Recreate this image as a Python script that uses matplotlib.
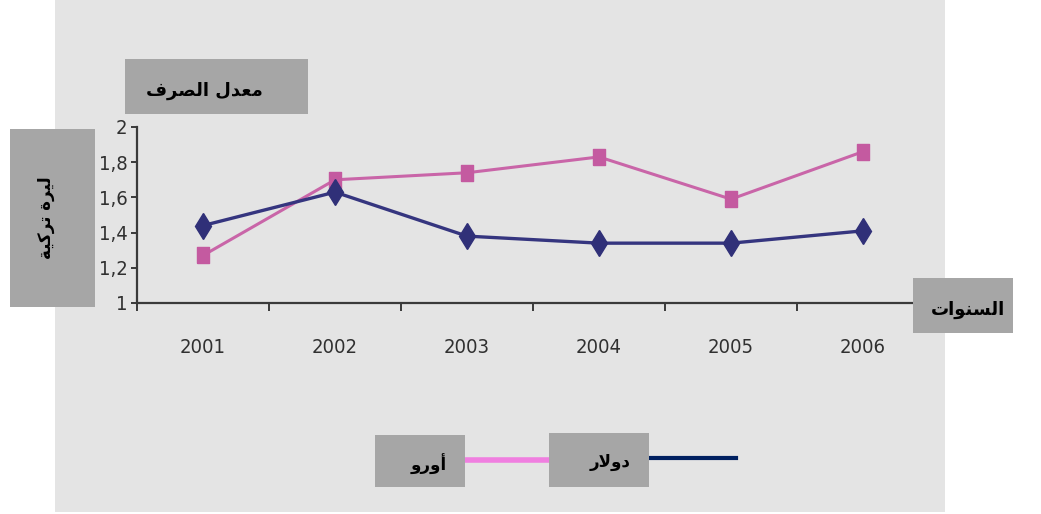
import numpy as np
import matplotlib
matplotlib.use("Agg")
import matplotlib.pyplot as plt
from matplotlib.patches import Rectangle
from matplotlib.lines import Line2D

# exchange rates of the Turkish lira, 2001-2006
years = ["2001", "2002", "2003", "2004", "2005", "2006"]
euro = [1.27, 1.70, 1.74, 1.83, 1.59, 1.86]
dollar = [1.44, 1.63, 1.38, 1.34, 1.34, 1.41]
yticks = [1.0, 1.2, 1.4, 1.6, 1.8, 2.0]

# Arabic labels, written with presentation forms in visual order
# (matplotlib does no shaping / bidi on its own)
title_txt = "\uFED1\uFEAE\uFEBC\uFEDF\uFE8D \uFEDD\uFEAA\uFECC\uFEE3"   # معدل الصرف
ylabel_txt = "\uFE94\uFEF4\uFEDB\uFEAE\uFE97 \uFE93\uFEAE\uFEF4\uFEDF"  # ليرة تركية
xlabel_txt = "\uFE95\uFE8D\uFEEE\uFEE8\uFEB4\uFEDF\uFE8D"              # السنوات
euro_txt = "\uFEED\uFEAD\uFEED\uFE83"                                  # أورو
dollar_txt = "\uFEAD\uFEFB\uFEED\uFEA9"                                # دولار

W, H = 1041, 514
BG = "#e4e4e4"
BOX = "#a6a6a6"


def px_rect(fig, x0, y0, x1, y1, color, z=2):
    # rectangle given in pixel coords (origin top-left)
    r = Rectangle((x0 / W, 1 - y1 / H), (x1 - x0) / W, (y1 - y0) / H,
                  transform=fig.transFigure, facecolor=color,
                  edgecolor="none", zorder=z)
    fig.add_artist(r)
    return r


def px_text(fig, x, y, s, size=15, rot=0):
    fig.text(x / W, 1 - y / H, s, ha="center", va="center", rotation=rot,
             fontsize=size, fontweight="bold", color="black",
             family="DejaVu Sans", zorder=5)


fig = plt.figure(figsize=(W / 100, H / 100), dpi=100, facecolor="white")
px_rect(fig, 55, 0, 945, 512, BG, z=-5)

ax = fig.add_axes([137 / W, 1 - 303 / H, 792 / W, 176 / H])
ax.set_facecolor("none")
x = np.arange(len(years))

rect_marker = [(-0.68, -1), (0.68, -1), (0.68, 1), (-0.68, 1), (-0.68, -1)]
ax.plot(x, euro, color="#c965a8", lw=2.2, marker=rect_marker,
        markersize=12, markerfacecolor="#c45aa0", markeredgecolor="#c45aa0",
        zorder=3)
ax.plot(x, dollar, color="#35357f", lw=2.4, marker="d",
        markersize=13, markerfacecolor="#303078", markeredgecolor="#303078",
        zorder=4)

ax.set_xlim(-0.5, len(years) - 0.5)
ax.set_ylim(1, 2)
for s in ["top", "right"]:
    ax.spines[s].set_visible(False)
for s in ["left", "bottom"]:
    ax.spines[s].set_color("#3a3a3a")
    ax.spines[s].set_linewidth(1.6)

ax.set_yticks(yticks)
ax.set_yticklabels([("%.1f" % v).replace(".", ",").replace(",0", "")
                    for v in yticks])
ax.tick_params(axis="y", length=4, width=1.4, color="#3a3a3a", pad=3,
               labelsize=14.5, labelcolor="#303030")

ax.set_xticks(x)
ax.set_xticklabels(years)
ax.set_xticks(np.arange(-0.5, len(years)), minor=True)
ax.tick_params(axis="x", which="major", length=0, pad=25, labelsize=14.5,
               labelcolor="#303030")
ax.tick_params(axis="x", which="minor", length=6, width=1.4,
               color="#3a3a3a", direction="out")
for lab in ax.get_xticklabels() + ax.get_yticklabels():
    lab.set_family("DejaVu Sans")
    lab.set_stretch("condensed")

# label boxes
px_rect(fig, 125, 59, 308, 114, BOX)
px_text(fig, 204, 91, title_txt, size=13)

px_rect(fig, 10, 129, 95, 307, BOX)
px_text(fig, 46, 218, ylabel_txt, size=12, rot=90)

px_rect(fig, 913, 278, 1013, 333, BOX)
px_text(fig, 968, 310, xlabel_txt, size=13)

# legend
fig.add_artist(Line2D([465 / W, 549 / W], [1 - 460 / H, 1 - 460 / H],
                      transform=fig.transFigure, color="#f07fe0", lw=4,
                      zorder=2))
fig.add_artist(Line2D([649 / W, 736 / W], [1 - 458 / H, 1 - 458 / H],
                      transform=fig.transFigure, color="#002060", lw=3,
                      zorder=2))
px_rect(fig, 375, 435, 465, 487, BOX)
px_text(fig, 429, 464, euro_txt, size=12)
px_rect(fig, 549, 433, 649, 487, BOX)
px_text(fig, 610, 462, dollar_txt, size=12)

fig.savefig("out.png", dpi=100, facecolor="white")
